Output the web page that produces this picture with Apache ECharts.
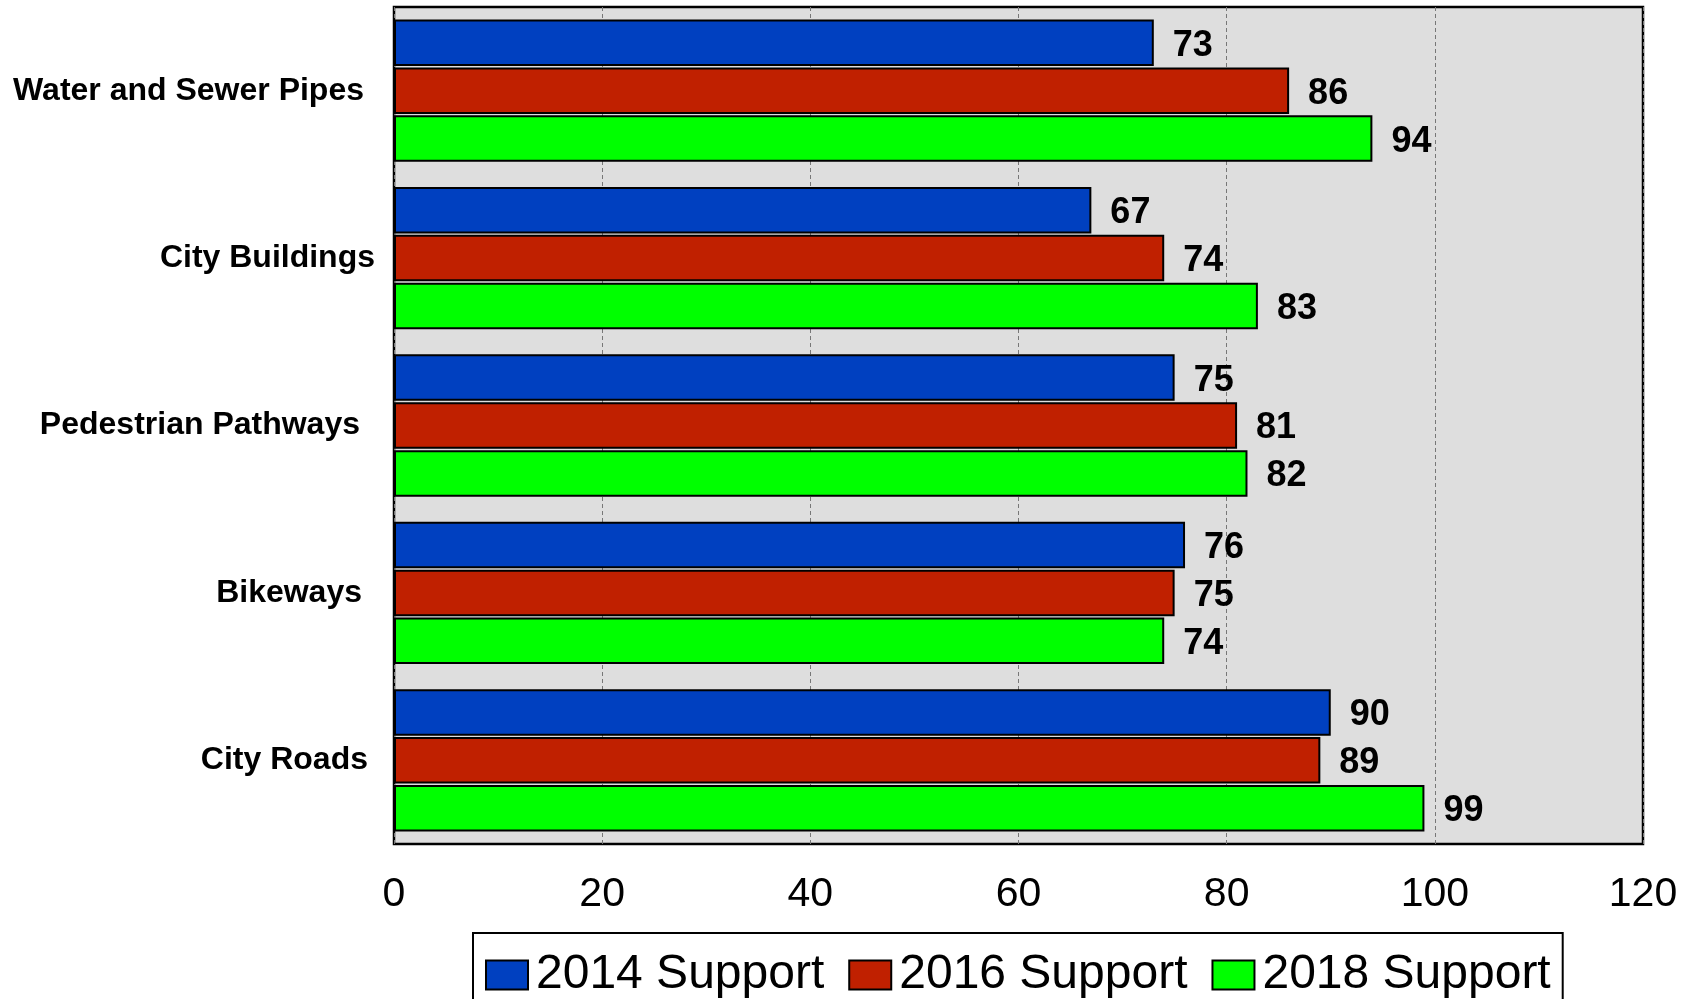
<!DOCTYPE html>
<html>
<head>
<meta charset="utf-8">
<script src="https://cdn.jsdelivr.net/npm/echarts@6/dist/echarts.min.js"></script>
<style>
html,body{margin:0;padding:0;background:#fff;}
#c{width:1694px;height:999px;}
</style>
</head>
<body>
<div id="c"></div>
<script>
const categories = ['Water and Sewer Pipes', 'City Buildings', 'Pedestrian Pathways', 'Bikeways', 'City Roads'];
const seriesNames = ['2014 Support', '2016 Support', '2018 Support'];
const support2014 = [73, 67, 75, 76, 90];
const support2016 = [86, 74, 81, 75, 89];
const support2018 = [94, 83, 82, 74, 99];
const xTicks = [0, 20, 40, 60, 80, 100, 120];
const colors = ['#0040C0', '#C02000', '#00FF00'];

const font = '"Liberation Sans", Arial, sans-serif';
const values = [support2014, support2016, support2018];
// small right-side offsets of each category label (the source labels are not exactly aligned)
const labelShift = [11, 0, 15, 13, 7];

const chart = echarts.init(document.getElementById('c'), null, {renderer: 'canvas'});
chart.setOption({
  animation: false,
  backgroundColor: '#ffffff',
  grid: {
    left: 394, right: 51, top: 7, bottom: 155,
    show: true, backgroundColor: '#DEDEDE', borderColor: '#000', borderWidth: 2.5
  },
  legend: {
    data: seriesNames.map(n => ({name: n, icon: 'rect'})),
    left: 473, top: 933,
    itemWidth: 42, itemHeight: 29, itemGap: 24,
    padding: [18, 12, 40, 12],
    borderColor: '#000', borderWidth: 2,
    textStyle: {fontFamily: font, fontSize: 48, color: '#000', padding: [0, 0, 0, 3]}
  },
  xAxis: {
    type: 'value', min: xTicks[0], max: xTicks[xTicks.length - 1], interval: 20,
    axisLine: {show: false}, axisTick: {show: false},
    axisLabel: {fontFamily: font, fontSize: 41, color: '#000', margin: 30},
    splitLine: {show: true, lineStyle: {color: '#777', type: [4, 3], width: 1}}
  },
  yAxis: {
    type: 'category', inverse: true,
    data: categories.map((c, i) => ({value: c, textStyle: {padding: [6, labelShift[i], 0, 0]}})),
    axisLine: {show: false}, axisTick: {show: false},
    axisLabel: {fontFamily: font, fontSize: 32, fontWeight: 'bold', color: '#000', margin: 19}
  },
  series: seriesNames.map((name, i) => ({
    name: name, type: 'bar', data: values[i],
    barCategoryGap: '15%', barGap: '3%',
    itemStyle: {color: colors[i], borderColor: '#000', borderWidth: 2},
    label: {show: true, position: 'right', distance: 19, offset: [0, 3], fontFamily: font, fontSize: 36, fontWeight: 'bold', color: '#000'}
  }))
});
</script>
</body>
</html>
